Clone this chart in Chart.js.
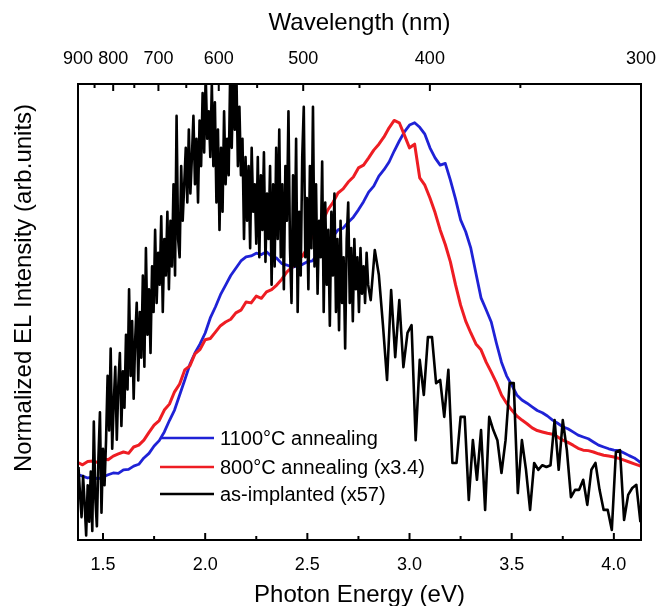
<!DOCTYPE html>
<html>
<head>
<meta charset="utf-8">
<script src="https://cdn.jsdelivr.net/npm/chart.js@4.4.0/dist/chart.umd.min.js"></script>
<style>
  body { margin: 0; background: #fff; }
  #wrap { width: 657px; height: 606px; }
</style>
</head>
<body>
<div id="wrap"><canvas id="elChart"></canvas></div>
<script>
// photon energy grid (eV) for the two annealed samples
const energy = [1.38, 1.40, 1.425, 1.45, 1.475, 1.50, 1.525, 1.55, 1.575, 1.60, 1.625, 1.65, 1.675, 1.70,
  1.725, 1.75, 1.775, 1.80, 1.825, 1.85, 1.875, 1.90, 1.925, 1.95, 1.975, 2.00, 2.025, 2.05, 2.075, 2.10,
  2.125, 2.15, 2.175, 2.20, 2.225, 2.25, 2.275, 2.30, 2.325, 2.35, 2.375, 2.40, 2.425, 2.45, 2.475, 2.50,
  2.525, 2.55, 2.575, 2.60, 2.625, 2.65, 2.675, 2.70, 2.725, 2.75, 2.775, 2.80, 2.825, 2.85, 2.875, 2.90,
  2.925, 2.95, 2.975, 3.00, 3.025, 3.05, 3.075, 3.10, 3.125, 3.15, 3.175, 3.20, 3.225, 3.25, 3.275, 3.30,
  3.325, 3.35, 3.375, 3.40, 3.425, 3.45, 3.475, 3.50, 3.525, 3.55, 3.575, 3.60, 3.625, 3.65, 3.675, 3.70,
  3.725, 3.75, 3.775, 3.80, 3.825, 3.85, 3.875, 3.90, 3.925, 3.95, 3.975, 4.00, 4.025, 4.05, 4.075, 4.10,
  4.125, 4.13]

const anneal1100 = [0.143, 0.140, 0.136, 0.138, 0.134, 0.138, 0.143, 0.147, 0.146, 0.154, 0.155, 0.162, 0.166, 0.180,
  0.190, 0.206, 0.218, 0.237, 0.262, 0.285, 0.318, 0.351, 0.385, 0.410, 0.430, 0.454, 0.487, 0.511, 0.538, 0.559,
  0.580, 0.596, 0.612, 0.621, 0.623, 0.629, 0.626, 0.632, 0.622, 0.618, 0.606, 0.603, 0.598, 0.601, 0.604, 0.610,
  0.612, 0.627, 0.641, 0.658, 0.665, 0.680, 0.684, 0.697, 0.708, 0.724, 0.742, 0.763, 0.776, 0.798, 0.812, 0.829,
  0.853, 0.875, 0.895, 0.910, 0.915, 0.905, 0.890, 0.860, 0.838, 0.822, 0.826, 0.789, 0.748, 0.702, 0.676, 0.640,
  0.585, 0.531, 0.505, 0.478, 0.432, 0.390, 0.360, 0.340, 0.318, 0.307, 0.300, 0.292, 0.284, 0.279, 0.272, 0.263,
  0.256, 0.248, 0.244, 0.237, 0.230, 0.226, 0.222, 0.215, 0.208, 0.204, 0.200, 0.197, 0.196, 0.191, 0.185, 0.180,
  0.172, 0.169]

const anneal800 = [0.169, 0.165, 0.172, 0.173, 0.170, 0.178, 0.176, 0.184, 0.189, 0.193, 0.190, 0.204, 0.208, 0.219,
  0.236, 0.252, 0.262, 0.285, 0.298, 0.325, 0.342, 0.373, 0.382, 0.408, 0.418, 0.439, 0.442, 0.456, 0.470, 0.478,
  0.484, 0.498, 0.504, 0.522, 0.520, 0.535, 0.530, 0.544, 0.549, 0.559, 0.572, 0.588, 0.598, 0.614, 0.622, 0.640,
  0.668, 0.684, 0.700, 0.724, 0.740, 0.761, 0.770, 0.785, 0.796, 0.816, 0.822, 0.838, 0.855, 0.868, 0.884, 0.904,
  0.920, 0.915, 0.888, 0.860, 0.868, 0.794, 0.778, 0.750, 0.718, 0.680, 0.648, 0.610, 0.560, 0.515, 0.480, 0.454,
  0.430, 0.417, 0.390, 0.368, 0.345, 0.318, 0.300, 0.285, 0.272, 0.263, 0.255, 0.246, 0.240, 0.237, 0.234, 0.232,
  0.226, 0.219, 0.214, 0.208, 0.201, 0.197, 0.196, 0.193, 0.189, 0.186, 0.184, 0.182, 0.179, 0.175, 0.171, 0.167,
  0.163, 0.162]

// as-implanted trace: dense part from 1.38 eV every 0.0075 eV, then from 2.81 eV every 0.02 eV
const implStartA = 1.38, implStepA = 0.0075
const implantedA = [0.16, 0.10, 0.05, 0.14, 0.08, 0.01, 0.12, 0.04, 0.15, 0.02,
  0.26, 0.09, 0.03, 0.18, 0.28, 0.06, 0.20, 0.12, 0.22, 0.36,
  0.24, 0.42, 0.20, 0.30, 0.38, 0.22, 0.34, 0.41, 0.25, 0.37,
  0.29, 0.45, 0.33, 0.55, 0.36, 0.48, 0.31, 0.44, 0.52, 0.35,
  0.50, 0.40, 0.58, 0.38, 0.64, 0.45, 0.55, 0.41, 0.60, 0.50,
  0.68, 0.52, 0.63, 0.56, 0.71, 0.50, 0.66, 0.58, 0.72, 0.55,
  0.70, 0.60, 0.78, 0.58, 0.93, 0.66, 0.62, 0.82, 0.70, 0.78,
  0.86, 0.74, 0.90, 0.76, 0.84, 0.93, 0.78, 0.88, 0.74, 0.92,
  0.82, 0.98, 0.85, 1.02, 0.88, 0.94, 0.84, 1.00, 0.82, 0.96,
  0.74, 0.90, 0.68, 0.86, 0.72, 0.94, 0.78, 0.88, 0.80, 1.03,
  0.86, 1.03, 0.90, 1.03, 0.82, 0.95, 0.80, 0.88, 0.66, 0.84,
  0.70, 0.82, 0.64, 0.86, 0.72, 0.78, 0.65, 0.84, 0.62, 0.80,
  0.68, 0.85, 0.61, 0.76, 0.66, 0.82, 0.56, 0.78, 0.60, 0.86,
  0.66, 0.90, 0.62, 0.78, 0.55, 0.82, 0.70, 0.94, 0.64, 0.52,
  0.80, 0.60, 0.88, 0.50, 0.72, 0.58, 0.84, 0.95, 0.62, 0.75,
  0.55, 0.82, 0.64, 0.95, 0.60, 0.78, 0.54, 0.70, 0.62, 0.83,
  0.50, 0.74, 0.56, 0.68, 0.47, 0.72, 0.58, 0.76, 0.50, 0.66,
  0.46, 0.70, 0.52, 0.62, 0.42, 0.66, 0.74, 0.52, 0.64, 0.48,
  0.66, 0.55, 0.62, 0.50, 0.64, 0.54, 0.60, 0.52, 0.63, 0.56]
const implStartB = 2.81, implStepB = 0.02
const implantedB = [0.526, 0.636, 0.581, 0.471, 0.351, 0.548, 0.401, 0.526, 0.379, 0.454,
  0.471, 0.219, 0.395, 0.318, 0.445, 0.445, 0.344, 0.351, 0.270, 0.373,
  0.169, 0.169, 0.270, 0.270, 0.088, 0.219, 0.132, 0.241, 0.066, 0.270,
  0.241, 0.219, 0.147, 0.219, 0.344, 0.344, 0.103, 0.219, 0.154, 0.066,
  0.169, 0.154, 0.164, 0.160, 0.164, 0.263, 0.154, 0.263, 0.197, 0.094,
  0.110, 0.110, 0.132, 0.077, 0.154, 0.169, 0.110, 0.066, 0.066, 0.022,
  0.193, 0.197, 0.044, 0.099, 0.114, 0.121, 0.039]

const energyTicks = [1.5, 1.75, 2.0, 2.25, 2.5, 2.75, 3.0, 3.25, 3.5, 3.75, 4.0]
const energyLabels = [1.5, 2.0, 2.5, 3.0, 3.5, 4.0]
const waveTicks = [900, 850, 800, 750, 700, 650, 600, 550, 500, 450, 400, 350, 300]
const waveLabels = [900, 800, 700, 600, 500, 400, 300]
const seriesNames = ['1100\u00B0C annealing', '800\u00B0C annealing (x3.4)', 'as-implanted (x57)']

const HC = 1239.84
const FONT = 'Liberation Sans, Arial, sans-serif'
const BLUE = '#1f22d6', RED = '#ee1d23', BLACK = '#000000'

/*========================== Build points =============================*/
const pts1100 = energy.map((e, i) => ({ x: e, y: anneal1100[i] }))
const pts800 = energy.map((e, i) => ({ x: e, y: anneal800[i] }))
const ptsImpl = implantedA.map((v, i) => ({ x: implStartA + i * implStepA, y: v }))
  .concat(implantedB.map((v, i) => ({ x: implStartB + i * implStepB, y: v })))

/*========================== Plugins =============================*/
const frameAndTicks = {
  id: 'frameAndTicks',
  afterDraw(chart) {
    const ctx = chart.ctx, a = chart.chartArea
    ctx.save()
    ctx.strokeStyle = '#000'
    ctx.lineWidth = 2
    ctx.strokeRect(a.left, a.top, a.right - a.left, a.bottom - a.top)
    const bx = chart.scales.x
    bx.ticks.forEach(t => {
      const px = bx.getPixelForValue(t.value)
      const len = energyLabels.includes(t.value) ? 7 : 4
      ctx.beginPath(); ctx.moveTo(px, a.bottom); ctx.lineTo(px, a.bottom - len); ctx.stroke()
    })
    const tx = chart.scales.x2
    tx.ticks.forEach(t => {
      const wl = Math.round(HC / t.value)
      if (wl === 900 || wl === 300) return
      const px = tx.getPixelForValue(t.value)
      const len = waveLabels.includes(wl) ? 7 : 4
      ctx.beginPath(); ctx.moveTo(px, a.top); ctx.lineTo(px, a.top + len); ctx.stroke()
    })
    // y title
    ctx.fillStyle = '#000'
    ctx.font = '24px ' + FONT
    ctx.textAlign = 'center'
    ctx.textBaseline = 'middle'
    ctx.translate(24, 288)
    ctx.rotate(-Math.PI / 2)
    ctx.fillText('Normalized EL Intensity (arb.units)', 0, 0)
    ctx.restore()

    // legend
    ctx.save()
    const colors = [BLUE, RED, BLACK]
    const rows = [438, 467, 494]
    ctx.font = '20px ' + FONT
    ctx.textBaseline = 'middle'
    ctx.fillStyle = '#000'
    rows.forEach((y, i) => {
      ctx.strokeStyle = colors[i]
      ctx.lineWidth = 2.6
      ctx.beginPath(); ctx.moveTo(160, y); ctx.lineTo(214, y); ctx.stroke()
      ctx.fillText(seriesNames[i], 220, y + 1)
    })
    ctx.restore()
  }
}

// labels may hang over the plot edge, as in the original figure
const noSidePad = s => { s.paddingLeft = 0; s.paddingRight = 0 }

/*========================== Chart =============================*/
const xMin = HC / 900, xMax = HC / 300

new Chart(document.getElementById('elChart'), {
  type: 'line',
  data: {
    datasets: [
      { label: seriesNames[2], data: ptsImpl, borderColor: BLACK, borderWidth: 2.6 },
      { label: seriesNames[1], data: pts800, borderColor: RED, borderWidth: 3 },
      { label: seriesNames[0], data: pts1100, borderColor: BLUE, borderWidth: 2.8 }
    ]
  },
  options: {
    responsive: true,
    maintainAspectRatio: false,
    animation: false,
    parsing: false,
    elements: { point: { radius: 0 }, line: { tension: 0, borderJoinStyle: 'round' } },
    layout: { padding: { left: 0, right: 16, top: 0, bottom: 0 } },
    plugins: { legend: { display: false }, tooltip: { enabled: false } },
    scales: {
      x: {
        type: 'linear', position: 'bottom', min: xMin, max: xMax,
        afterBuildTicks: s => { s.ticks = energyTicks.map(v => ({ value: v })) },
        afterFit: s => { s.height = 66; noSidePad(s) },
        grid: { display: false, drawTicks: false },
        border: { display: false },
        ticks: {
          autoSkip: false, maxRotation: 0, padding: 14, color: '#000',
          font: { family: FONT, size: 18 },
          callback: v => energyLabels.includes(v) ? v.toFixed(1) : ''
        },
        title: { display: true, text: 'Photon Energy (eV)', color: '#000',
          font: { family: FONT, size: 24 }, padding: { top: 0, bottom: -4 } }
      },
      x2: {
        type: 'linear', position: 'top', min: xMin, max: xMax,
        afterBuildTicks: s => { s.ticks = waveTicks.map(w => ({ value: HC / w })) },
        afterFit: s => { s.height = 84; noSidePad(s) },
        grid: { display: false, drawTicks: false },
        border: { display: false },
        ticks: {
          autoSkip: false, maxRotation: 0, padding: 14, color: '#000',
          font: { family: FONT, size: 18 },
          callback: v => {
            const wl = Math.round(HC / v)
            return waveLabels.includes(wl) ? String(wl) : ''
          }
        },
        title: { display: true, text: 'Wavelength (nm)', color: '#000',
          font: { family: FONT, size: 24 }, padding: { top: 9, bottom: 0 } }
      },
      y: {
        min: 0, max: 1,
        afterFit: s => { s.width = 78 },
        grid: { display: false, drawTicks: false },
        border: { display: false },
        ticks: { display: false }
      }
    }
  },
  plugins: [frameAndTicks]
})
</script>
</body>
</html>
